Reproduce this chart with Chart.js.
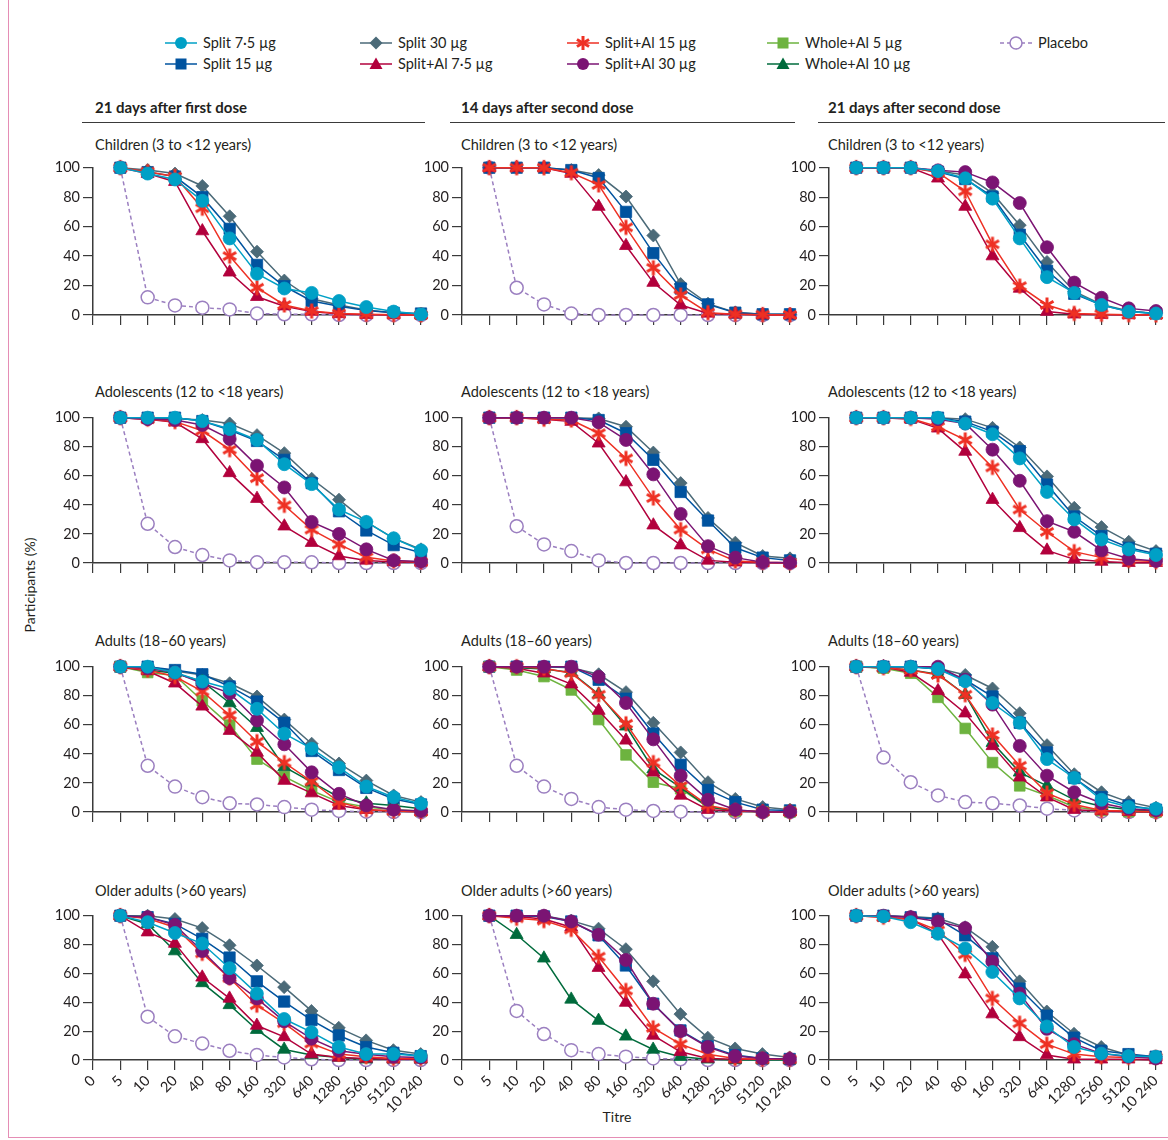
<!DOCTYPE html>
<html>
<head>
<meta charset="utf-8">
<title>Seroprotection curves</title>
<script src="https://cdn.jsdelivr.net/npm/chart.js@4.4.1/dist/chart.umd.min.js"></script>
<style>
  body { margin: 0; background: #fff; font-family: Lato, "Open Sans", sans-serif; color: #231f20; }
  #page { position: relative; width: 1168px; height: 1140px; overflow: hidden; }
  .frame { position: absolute; left: 8px; top: 0; width: 1170px; height: 1137px; border-left: 1px solid #e58db5; border-bottom: 1px solid #e58db5; }
  .panel { position: absolute; }
  .txt { position: absolute; white-space: nowrap; font-size: 14.5px; line-height: 20px; }
  .head { font-weight: bold; font-size: 15px; }
  .rule { position: absolute; height: 0; border-top: 1px solid #3a3a3a; }
  .leg { position: absolute; height: 20px; }
  .leg svg { position: absolute; left: 0; top: 0; }
  .leg span { position: absolute; top: 0; white-space: nowrap; font-size: 14.5px; line-height: 20px; }
</style>
</head>
<body>
<div id="page">
  <div class="frame"></div>
</div>
<script>
// Titre categories ('0' sits on the y axis, data start at 5)
const titres = ['0', '5', '10', '20', '40', '80', '160', '320', '640', '1280', '2560', '5120', '10 240'];
const doseHeaders = ['21 days after first dose', '14 days after second dose', '21 days after second dose'];
const ageGroups = ['Children (3 to <12 years)', 'Adolescents (12 to <18 years)', 'Adults (18–60 years)', 'Older adults (>60 years)'];
const seriesNames = ['Split 7·5 µg', 'Split 15 µg', 'Split 30 µg', 'Split+Al 7·5 µg', 'Split+Al 15 µg', 'Split+Al 30 µg', 'Whole+Al 5 µg', 'Whole+Al 10 µg', 'Placebo'];

// % participants with titre >= value, titres 5 ... 10 240
const children1 = {
  split7:    [100, 96, 92, 77.5, 52, 28, 18, 15, 9.5, 5.4, 2.3, 0.5],
  split15:   [100, 97, 94, 80, 58.5, 34, 19.5, 9.5, 6, 3, 1.5, 1],
  split30:   [100, 98.4, 96, 87.6, 67, 43, 23.4, 11, 6.8, 3.4, 1.6, 0.5],
  splitAl7:  [100, 96, 90.5, 57, 29, 12.4, 6, 2.3, 0.7, 0.2, 0, 0],
  splitAl15: [100, 97.3, 94, 72.5, 40, 18.5, 6.8, 2.7, 1, 0.5, 0.2, 0],
  placebo:   [100, 12, 6.5, 5, 3.8, 1, 0.5, 0.5, 0, 0, 0, 0]
};
const children2 = {
  split15:   [100, 100, 100, 98.4, 93, 70, 42, 18, 7.2, 1.6, 0.5, 0.5],
  split30:   [100, 100, 100, 98.4, 95, 80.4, 54, 21, 7.7, 1.8, 0.5, 0.5],
  splitAl7:  [100, 100, 100, 96, 73.6, 47, 22, 6.8, 1.1, 0.5, 0, 0],
  splitAl15: [100, 100, 100, 96.6, 88.3, 59.5, 32, 13.5, 1.6, 0.5, 0.2, 0],
  placebo:   [100, 18.5, 7.2, 1, 0, 0, 0, 0, 0, 0, 0, 0]
};
const children3 = {
  split7:    [100, 100, 100, 97.7, 92.8, 79, 52, 25.7, 15, 6.8, 2.3, 1],
  split15:   [100, 100, 100, 97.3, 92.3, 80.4, 54.5, 30, 14.4, 6.8, 2.3, 1.1],
  split30:   [100, 100, 100, 97.7, 95, 82.7, 61, 36, 16, 7.2, 2.7, 1.1],
  splitAl7:  [100, 100, 100, 92.8, 73.6, 40, 18, 2.3, 0.5, 0.2, 0, 0],
  splitAl15: [100, 100, 100, 96.8, 84, 48, 19.6, 6.8, 1.1, 0.5, 0.2, 0],
  splitAl30: [100, 100, 100, 98.2, 97, 90, 76, 46, 22, 11.7, 4.5, 2.7]
};
const adolescents1 = {
  split7:    [100, 100, 100, 97.7, 92.2, 84.7, 68, 54.3, 36.8, 28.3, 17, 8.7],
  split15:   [100, 100, 100, 97.7, 91.5, 84, 71, 55, 35.6, 22.4, 12.3, 7],
  split30:   [100, 99.5, 99.5, 98.4, 96, 88, 75.6, 58, 43.6, 28.3, 17, 9.4],
  splitAl7:  [100, 99, 96.8, 85.4, 62, 44.3, 25.3, 14, 4.8, 1.8, 0.7, 0.5],
  splitAl15: [100, 99, 97.3, 91, 78, 58.4, 39.7, 23, 12.8, 4, 1.4, 0.7],
  splitAl30: [100, 99, 98.4, 95, 85.4, 67, 52, 28.3, 20, 9.4, 1.8, 1],
  placebo:   [100, 27, 11, 5.5, 1.8, 0.5, 0.5, 0.5, 0, 0, 0, 0]
};
const adolescents2 = {
  split15:   [100, 100, 100, 100, 98.4, 89.3, 71, 48.9, 29.2, 10.5, 3.7, 1.8],
  split30:   [100, 100, 100, 100, 99.5, 93.8, 76, 55, 31, 14, 4.8, 3.2],
  splitAl7:  [100, 100, 99, 97.3, 82.4, 55.7, 26, 12.3, 1.8, 0.5, 0.2, 0],
  splitAl15: [100, 100, 99, 98.4, 89.3, 72, 44.7, 23, 9.4, 1.4, 0.5, 0.2],
  splitAl30: [100, 100, 100, 100, 96.8, 84.7, 61, 33.8, 11.6, 3.7, 0.5, 0.2],
  placebo:   [100, 25.3, 12.8, 8.2, 1.8, 0, 0, 0, 0, 0, 0, 0]
};
const adolescents3 = {
  split7:    [100, 100, 100, 100, 96, 88.6, 72, 48.9, 30, 16.2, 9.4, 5.5],
  split15:   [100, 100, 100, 100, 97.3, 90.4, 77, 54, 32, 18.5, 10.5, 6.4],
  split30:   [100, 100, 100, 100, 99, 93, 79.5, 59.6, 38, 24.7, 14.6, 8.2],
  splitAl7:  [100, 100, 99, 92.7, 76.7, 43.6, 24.2, 8.7, 2.5, 1, 0.2, 0.2],
  splitAl15: [100, 100, 99.5, 93.8, 84.7, 65.8, 36.8, 21.5, 7.8, 3.7, 1.8, 1],
  splitAl30: [100, 100, 100, 99, 96, 78, 56.6, 28.8, 21.5, 8.7, 3, 1.4]
};
const adults1 = {
  split7:    [100, 100, 96, 89.8, 84.8, 71, 53.9, 43.6, 30.7, 17.5, 10.2, 5.7],
  split15:   [100, 100, 97.7, 94.8, 86.4, 76, 61.4, 42, 28.9, 16.6, 9, 5.2],
  split30:   [100, 100, 97, 94.3, 88.6, 79.5, 63.6, 47, 33.4, 21.6, 11.4, 6.8],
  splitAl7:  [100, 97, 88.6, 72.7, 56, 41, 21.6, 13, 4.5, 1.6, 0.7, 0.2],
  splitAl15: [100, 97.7, 93.2, 83, 66.6, 48.4, 34, 21, 6.8, 1.6, 0.7, 0.2],
  splitAl30: [100, 99, 96, 88.6, 81.8, 63, 46.6, 27.3, 12.5, 4.5, 1.6, 0.7],
  whole5:    [100, 96, 93.9, 76.6, 59.8, 36.4, 24.3, 14.8, 6.8, 3.4, 1.6, 0.7],
  whole10:   [100, 97.7, 95.5, 89.8, 75, 58, 31, 20.5, 10.2, 6, 4.5, 2.3],
  placebo:   [100, 31.8, 17.5, 10.2, 6, 5.2, 3.4, 1.6, 0.7, 0.2, 0, 0]
};
const adults2 = {
  split15:   [100, 100, 100, 100, 91, 78, 54, 32.5, 15.2, 6.8, 1.6, 1.1],
  split30:   [100, 100, 100, 99.3, 94.8, 82.5, 61.4, 41, 20.5, 9, 3.4, 1.6],
  splitAl7:  [100, 99, 95.5, 88, 69.8, 49.3, 27.3, 11.4, 1.6, 0.7, 0.2, 0],
  splitAl15: [100, 100, 99, 95.5, 80.7, 60.7, 34, 18, 4.5, 1.1, 0.2, 0.2],
  splitAl30: [100, 100, 100, 100, 93, 75, 50, 25, 8.4, 1.6, 0, 0.2],
  whole5:    [100, 97.7, 93.2, 84, 63.6, 39.3, 20.5, 16, 3.4, 0.7, 0.2, 0],
  whole10:   [100, 99.3, 98.4, 96, 81, 59, 29.5, 17, 3.4, 1.1, 0.2, 0.2],
  placebo:   [100, 31.8, 17.5, 9, 3.4, 1.6, 0.7, 0.2, 0, 0, 0, 0]
};
const adults3 = {
  split7:    [100, 100, 100, 98.4, 90, 75, 61.4, 36.4, 23.4, 8.4, 3.4, 2.3],
  split15:   [100, 100, 100, 98.4, 91, 79.5, 61.4, 41, 23.4, 10.2, 4.5, 1.6],
  split30:   [100, 100, 100, 99, 94.3, 85, 68, 46, 26, 13.6, 6.8, 3],
  splitAl7:  [100, 100, 96, 83.4, 68, 45.5, 23.9, 10.2, 1.6, 0.7, 0.2, 0],
  splitAl15: [100, 99.3, 97.7, 94.3, 80.7, 53, 31.8, 13, 5.2, 1.1, 0.7, 0.2],
  splitAl30: [100, 100, 100, 100, 91, 73.9, 45.5, 25, 13.6, 6, 2.3, 1.1],
  whole5:    [100, 99, 95.5, 78.9, 57.5, 34, 18, 11.4, 3.4, 1.1, 0.2, 0],
  whole10:   [100, 99.3, 97.7, 94.8, 80.7, 47.7, 27.3, 18, 8.4, 3.9, 1.6, 0.7],
  placebo:   [100, 37.5, 20.5, 11.4, 6.8, 6, 4.5, 2.3, 1.1, 0.2, 0, 0]
};
const older1 = {
  split7:    [100, 95.5, 88, 80.7, 63.6, 46, 28.4, 19.3, 9, 4.1, 4.1, 2.7],
  split15:   [100, 99, 94.3, 84, 71, 54.5, 40.5, 27.7, 17, 9, 5, 2.7],
  split30:   [100, 100, 97.7, 91.4, 79.5, 65.5, 50.5, 34, 22.3, 13.6, 6.8, 4.1],
  splitAl7:  [100, 88.6, 80.7, 57.3, 42.7, 23.9, 16, 4.1, 1.8, 1.1, 0.5, 0.5],
  splitAl15: [100, 98, 92, 73.9, 56.8, 38, 25.5, 11.4, 4.1, 2.3, 1.1, 1.1],
  splitAl30: [100, 99, 93.6, 75.5, 56.8, 42.7, 26.8, 14.8, 6.4, 4, 2.3, 1.8],
  whole10:   [100, 94.3, 75.5, 53.4, 38.2, 21, 7.3, 3.4, 1.8, 0.5, 0.5, 0.5],
  placebo:   [100, 30, 16.4, 11.4, 6.4, 3.4, 1.8, 0.5, 0, 0, 0, 0]
};
const older2 = {
  split15:   [100, 100, 99.5, 96, 86.4, 65.5, 39, 20.5, 9.5, 3.4, 1.1, 0.7],
  split30:   [100, 100, 100, 96.6, 91, 76.8, 54.5, 31.8, 15.5, 8, 4.1, 1.8],
  splitAl7:  [100, 99.5, 97.7, 92, 64, 39.8, 17, 5.7, 1.1, 0.5, 0.5, 0.5],
  splitAl15: [100, 98.2, 96.6, 90.5, 71.6, 48.2, 22.3, 11, 4, 1.1, 0.5, 0.5],
  splitAl30: [100, 100, 100, 96, 86.8, 69.3, 39, 20, 9, 2.7, 1.1, 0.7],
  whole10:   [100, 86.8, 70.5, 42, 27.3, 16.4, 7.3, 2.3, 0.5, 0, 0, 0],
  placebo:   [100, 34, 18, 6.8, 4.1, 2.3, 1.1, 0.5, 0, 0, 0, 0]
};
const older3 = {
  split7:    [100, 99.5, 95.5, 87.5, 77.3, 61, 42.7, 23.2, 9, 4.5, 2.7, 2.3],
  split15:   [100, 100, 98.9, 97.7, 86.4, 70.5, 49.5, 30.7, 15.5, 6.4, 4.1, 2.3],
  split30:   [100, 100, 99.5, 98.2, 92, 78.4, 54.5, 33.6, 18.2, 9, 3.4, 2.3],
  splitAl7:  [100, 99, 97.7, 87.5, 59.5, 31.8, 16, 3.4, 0.5, 0.5, 0.5, 0],
  splitAl15: [100, 99, 97.3, 89.8, 73.2, 42.7, 25.5, 11, 4.1, 2.3, 1.8, 1.8],
  splitAl30: [100, 100, 99, 96, 91.4, 68.2, 46, 21.6, 11, 4.5, 2.3, 1.1]
};

const panelData = [
  [children1, children2, children3],
  [adolescents1, adolescents2, adolescents3],
  [adults1, adults2, adults3],
  [older1, older2, older3]
];

// Series styling (legend order), order = draw priority (lower on top)
const seriesKeys = ['split7', 'split15', 'split30', 'splitAl7', 'splitAl15', 'splitAl30', 'whole5', 'whole10', 'placebo'];
const STYLE = {
  split7:    { color: '#00a0c6', shape: 'circle', r: 6.5, order: 0 },
  split15:   { color: '#00539f', shape: 'rect', r: 8, order: 6 },
  split30:   { color: '#4b6a78', shape: 'rectRot', r: 6.5, order: 7 },
  splitAl7:  { color: '#b2003c', shape: 'triangle', r: 7.5, order: 3 },
  splitAl15: { color: '#ee3124', shape: 'asterisk', r: 7, order: 2 },
  splitAl30: { color: '#7b1473', shape: 'circle', r: 6.5, order: 1 },
  whole5:    { color: '#6db33f', shape: 'rect', r: 7.5, order: 5 },
  whole10:   { color: '#006b3c', shape: 'triangle', r: 7.5, order: 4 },
  placebo:   { color: '#9b7fc0', shape: 'open', r: 6.5, order: 9 }
};

// Layout of the 4x3 grid (pixels)
const COLS = [
  { axisX: 93, xEnd: 421, textX: 95, lineL: 82, lineR: 425 },
  { axisX: 462, xEnd: 790, textX: 461, lineL: 450, lineR: 795 },
  { axisX: 829, xEnd: 1156, textX: 828, lineL: 818, lineR: 1165 }
];
const ROWS = [
  { top: 166, bottom: 315, titleY: 145 },
  { top: 416, bottom: 563, titleY: 392 },
  { top: 665, bottom: 812, titleY: 641 },
  { top: 914, bottom: 1060, titleY: 891 }
];
const Y_AXIS_W = 46, PAD_TOP = 10, PAD_RIGHT = 14;

const page = document.getElementById('page');

function makeAsterisk(color) {
  const size = 18;
  const c = document.createElement('canvas');
  c.width = c.height = size;
  const ctx = c.getContext('2d');
  ctx.strokeStyle = color;
  ctx.lineWidth = 3;
  const r = 7.5;
  for (let k = 0; k < 3; k++) {
    const a = Math.PI / 2 + k * Math.PI / 3;
    ctx.beginPath();
    ctx.moveTo(size / 2 + r * Math.cos(a), size / 2 + r * Math.sin(a));
    ctx.lineTo(size / 2 - r * Math.cos(a), size / 2 - r * Math.sin(a));
    ctx.stroke();
  }
  return c;
}
const asteriskImg = makeAsterisk(STYLE.splitAl15.color);

function addText(str, x, y, cls, extra) {
  const d = document.createElement('div');
  d.className = 'txt ' + (cls || '');
  d.textContent = str;
  d.style.left = x + 'px';
  d.style.top = (y - 10) + 'px';
  if (extra) Object.assign(d.style, extra);
  page.appendChild(d);
  return d;
}

// Legend
function markerSvg(key) {
  const s = STYLE[key];
  const c = s.color;
  const cx = 16, cy = 10;
  let line = `<line x1="0" y1="${cy}" x2="32" y2="${cy}" stroke="${c}" stroke-width="1.5"${key === 'placebo' ? ' stroke-dasharray="4 3"' : ''}/>`;
  let m = '';
  if (s.shape === 'circle') m = `<circle cx="${cx}" cy="${cy}" r="6" fill="${c}"/>`;
  if (s.shape === 'open') m = `<circle cx="${cx}" cy="${cy}" r="6" fill="#fff" stroke="${c}" stroke-width="1.5"/>`;
  if (s.shape === 'rect') m = `<rect x="${cx - 5.5}" y="${cy - 5.5}" width="11" height="11" fill="${c}"/>`;
  if (s.shape === 'rectRot') m = `<polygon points="${cx},${cy - 6.5} ${cx + 6.5},${cy} ${cx},${cy + 6.5} ${cx - 6.5},${cy}" fill="${c}"/>`;
  if (s.shape === 'triangle') m = `<polygon points="${cx},${cy - 6.5} ${cx + 6.5},${cy + 5} ${cx - 6.5},${cy + 5}" fill="${c}"/>`;
  if (s.shape === 'asterisk') {
    for (let k = 0; k < 3; k++) {
      const a = Math.PI / 2 + k * Math.PI / 3;
      const dx = 7 * Math.cos(a), dy = 7 * Math.sin(a);
      m += `<line x1="${cx + dx}" y1="${cy + dy}" x2="${cx - dx}" y2="${cy - dy}" stroke="${c}" stroke-width="3"/>`;
    }
  }
  return `<svg width="34" height="20">${line}${m}</svg>`;
}
const legendSlots = [
  ['split7', 165, 43], ['split15', 165, 64],
  ['split30', 360, 43], ['splitAl7', 360, 64],
  ['splitAl15', 567, 43], ['splitAl30', 567, 64],
  ['whole5', 767, 43], ['whole10', 767, 64],
  ['placebo', 1000, 43]
];
legendSlots.forEach(([key, x, y]) => {
  const d = document.createElement('div');
  d.className = 'leg';
  d.style.left = x + 'px';
  d.style.top = (y - 10) + 'px';
  d.innerHTML = markerSvg(key) + `<span style="left:38px">${seriesNames[seriesKeys.indexOf(key)]}</span>`;
  page.appendChild(d);
});

// Column headers with rules
COLS.forEach((col, c) => {
  addText(doseHeaders[c], col.textX, 107, 'head');
  const r = document.createElement('div');
  r.className = 'rule';
  r.style.left = col.lineL + 'px';
  r.style.top = '122px';
  r.style.width = (col.lineR - col.lineL) + 'px';
  page.appendChild(r);
});

// Axis titles
addText('Participants (%)', 30, 585, '', { transform: 'translate(-50%, 0) rotate(-90deg)', transformOrigin: '50% 50%', fontSize: '14px' });
addText('Titre', 617, 1117, '', { transform: 'translateX(-50%)', fontSize: '14px' });

Chart.defaults.font.family = 'Lato, "Open Sans", sans-serif';
Chart.defaults.color = '#231f20';

function buildDatasets(data) {
  return seriesKeys.filter(k => data[k]).map(k => {
    const s = STYLE[k];
    const open = s.shape === 'open';
    return {
      label: seriesNames[seriesKeys.indexOf(k)],
      data: [null, ...data[k]],
      borderColor: s.color,
      backgroundColor: s.color,
      borderWidth: 1.5,
      borderDash: open ? [4, 3] : [],
      tension: 0,
      pointStyle: s.shape === 'asterisk' ? asteriskImg : (open ? 'circle' : s.shape),
      pointRadius: s.r,
      pointBackgroundColor: open ? '#ffffff' : s.color,
      pointBorderColor: s.color,
      pointBorderWidth: open ? 1.5 : 0.8,
      order: s.order,
      clip: false
    };
  });
}

ROWS.forEach((row, r) => {
  COLS.forEach((col, c) => {
    addText(ageGroups[r], col.textX, row.titleY);
    const lastRow = r === ROWS.length - 1;
    const xAxisH = lastRow ? 62 : 12;
    const w = Y_AXIS_W + (col.xEnd - col.axisX) + PAD_RIGHT;
    const h = PAD_TOP + (row.bottom - row.top) + xAxisH;
    const box = document.createElement('div');
    box.className = 'panel';
    box.style.left = (col.axisX - Y_AXIS_W) + 'px';
    box.style.top = (row.top - PAD_TOP) + 'px';
    box.style.width = w + 'px';
    box.style.height = h + 'px';
    const cv = document.createElement('canvas');
    box.appendChild(cv);
    page.appendChild(box);

    new Chart(cv, {
      type: 'line',
      data: { labels: titres, datasets: buildDatasets(panelData[r][c]) },
      options: {
        responsive: true,
        maintainAspectRatio: false,
        animation: false,
        layout: { padding: { top: PAD_TOP, right: PAD_RIGHT, left: 0, bottom: 0 } },
        plugins: { legend: { display: false }, tooltip: { enabled: false } },
        scales: {
          x: {
            type: 'category',
            offset: false,
            grid: { display: true, drawOnChartArea: false, drawTicks: true, tickLength: 10, color: '#3a3a3a', lineWidth: 1.2 },
            border: { display: true, color: '#3a3a3a', width: 1.5 },
            ticks: {
              display: lastRow,
              autoSkip: false,
              minRotation: 45,
              maxRotation: 45,
              padding: 2,
              font: { size: 14.5 },
              color: '#231f20'
            },
            afterFit: s => { s.height = xAxisH; }
          },
          y: {
            min: 0,
            max: 100,
            grid: { display: true, drawOnChartArea: false, drawTicks: true, tickLength: 10, color: '#3a3a3a', lineWidth: 1.2 },
            border: { display: true, color: '#3a3a3a', width: 1.5 },
            ticks: {
              stepSize: 10,
              padding: 3,
              font: { size: 14.5 },
              color: '#231f20',
              callback: v => (v % 20 === 0 ? v : '')
            },
            afterFit: s => { s.width = Y_AXIS_W; }
          }
        }
      }
    });
  });
});
</script>
</body>
</html>
